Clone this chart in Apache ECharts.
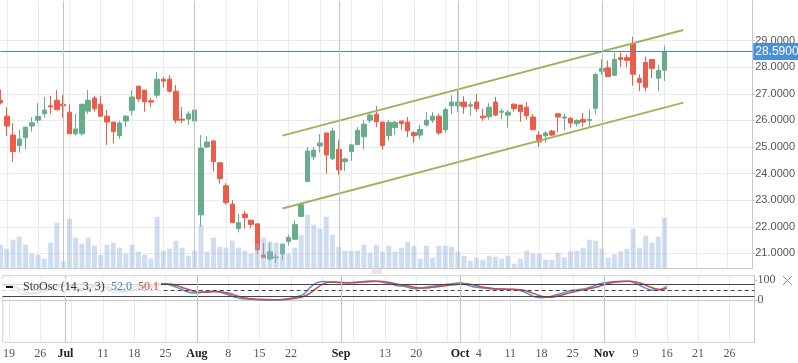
<!DOCTYPE html>
<html><head><meta charset="utf-8">
<script src="https://cdn.jsdelivr.net/npm/echarts@6/dist/echarts.min.js"></script>
<style>html,body{margin:0;padding:0;background:#fff}#c{width:798px;height:363px}</style>
</head><body><div id="c"></div><script>
const open  = [26.76,26.16,25.45,25.05,25.35,25.79,26.01,26.25,26.55,26.76,26.61,26.31,25.50,25.50,26.35,26.84,26.61,26.16,25.94,25.43,25.98,26.38,27.29,27.14,26.74,26.95,27.55,27.55,27.10,26.05,26.05,25.98,22.45,25.00,25.23,24.41,23.54,22.85,21.94,22.48,22.25,22.11,20.94,20.79,20.84,20.98,21.45,21.53,22.39,23.70,24.63,25.04,25.53,24.56,24.91,24.45,24.83,25.09,25.39,26.01,26.23,25.94,25.43,25.73,25.98,25.94,25.54,25.45,25.83,26.01,26.16,25.65,26.55,26.55,26.69,26.54,26.69,26.16,26.14,26.69,26.31,26.20,26.61,26.58,26.50,26.13,25.45,25.43,25.60,26.25,26.09,26.08,25.88,26.04,26.00,26.46,27.85,27.98,27.70,28.36,28.36,28.88,27.58,28.18,28.29,27.59,27.89];
const close = [26.66,25.79,24.83,25.30,25.75,25.91,26.15,26.39,26.51,26.40,26.55,25.50,25.68,26.61,26.76,26.44,26.16,25.94,25.58,25.90,26.16,26.88,26.81,26.70,26.69,27.55,27.48,27.10,26.01,26.01,26.24,26.39,24.96,25.19,24.45,23.81,22.91,22.16,22.15,22.35,22.09,21.13,20.85,21.06,20.86,21.33,21.60,22.08,22.83,24.85,24.88,25.15,24.70,25.60,24.14,24.55,25.08,25.63,25.86,26.20,25.95,25.05,25.93,25.93,25.88,25.61,25.43,25.66,26.01,26.16,25.53,26.41,26.69,26.69,26.51,26.59,26.44,26.10,26.50,26.20,26.35,26.31,26.44,26.33,26.18,25.65,25.19,25.53,25.45,26.13,26.13,25.90,26.00,25.94,26.04,27.73,27.95,27.65,28.29,28.29,28.26,27.74,27.43,27.25,27.96,27.88,28.59];
const low   = [26.60,25.41,24.45,24.79,24.90,25.58,25.90,26.10,26.25,26.40,26.10,25.48,25.43,25.43,26.25,26.33,26.14,25.08,25.13,25.31,25.76,26.20,26.70,26.33,26.51,26.84,27.23,27.04,25.90,25.90,25.83,25.58,22.01,24.95,24.08,23.63,22.83,22.16,21.79,21.93,21.94,20.99,20.83,20.73,20.64,20.75,21.30,21.53,22.39,23.70,24.51,24.79,24.00,24.50,23.95,24.10,24.48,25.09,24.91,25.90,25.75,24.90,25.24,25.46,25.65,25.38,25.16,25.30,25.76,25.90,25.45,25.54,26.25,26.31,26.25,26.18,26.33,25.98,26.03,26.16,26.05,25.73,26.33,25.95,26.03,25.65,25.00,25.16,25.41,25.56,25.63,25.73,25.78,25.75,25.73,26.23,27.73,27.63,27.66,28.00,28.00,27.31,27.10,27.10,27.59,27.10,27.48];
const high  = [27.16,26.50,25.90,25.66,25.75,26.13,26.65,26.88,26.93,27.14,26.96,26.61,26.24,26.61,27.14,26.93,26.93,26.39,25.94,25.98,26.20,27.14,27.29,27.14,26.84,27.81,27.63,27.70,27.33,26.50,26.35,26.50,25.45,25.41,25.26,24.41,23.64,23.00,22.48,22.60,22.25,22.11,21.40,21.40,21.00,21.33,21.70,22.23,22.91,25.00,25.00,25.49,25.53,25.73,25.25,24.60,25.13,25.75,26.00,26.33,26.54,25.94,26.01,25.98,25.98,26.13,25.60,25.83,26.31,26.31,26.25,26.48,26.95,27.13,26.91,26.70,26.99,26.44,26.65,26.88,26.43,26.39,26.65,26.58,26.69,26.24,25.60,25.60,25.65,26.25,26.25,26.13,26.04,26.28,26.41,27.80,28.31,28.25,28.54,28.56,28.48,29.15,27.73,28.40,28.29,28.10,28.81];
const volume = [233,193,283,313,233,143,133,93,253,453,73,493,303,243,303,223,133,233,253,203,143,233,163,133,93,513,173,193,273,203,123,173,433,163,303,213,203,273,203,173,143,243,303,263,253,253,143,203,333,533,433,393,513,333,213,173,173,173,233,153,233,163,223,163,203,263,223,93,223,103,223,223,213,163,123,73,103,83,123,113,93,123,43,93,173,143,143,83,83,153,107,167,173,203,283,273,193,103,137,167,193,393,203,323,253,313,503];
const stochK = [78,72,50,32,30,40,52,62,68,74,74,60,52,64,74,72,66,52,40,42,52,66,72,70,66,84,82,74,62,48,38,36,42,45,44,38,28,16,9,6,5,3,2,2,3,5,10,18,30,62,86,94,92,90,88,88,90,92,95,96,94,88,82,73,70,62,58,62,68,72,76,80,84,88,78,68,64,60,57,55,55,54,53,45,30,16,13,16,24,33,42,50,54,58,68,80,88,92,94,95,95,85,70,56,50,55,70];
const stochD = [74,74,66,52,38,34,40,50,60,68,72,70,62,58,62,70,72,64,54,46,46,52,62,70,70,82,83,80,72,60,50,42,40,41,44,42,36,26,17,10,7,5,4,3,3,4,6,11,19,35,58,80,90,92,90,88,88,90,92,94,95,93,88,80,75,70,64,61,62,66,70,74,78,82,83,78,70,64,60,57,56,55,54,51,43,31,20,15,17,24,33,42,49,54,60,68,78,87,91,94,95,92,84,70,59,53,60];
const tickIdx  = [1,6,10,16,21,26,31,36,41,46,54,61,66,73,76,81,86,91,96,101,106,111,116];
const tickText = ['19','26','Jul','11','18','25','Aug','8','15','22','Sep','13','20','Oct','4','11','18','25','Nov','9','16','21','26'];
const priceTicks = [21,22,23,24,25,26,27,28,29];
const monthIdx = [10,31,54,73,96];
const weekIdx  = [1,6,11,16,21,26,31,36,41,46,51,56,61,66,71,76,81,86,91,96,101,106,111,116];
const channelUpper = [[45,25.43],[109,29.40]];
const channelLower = [[45,22.69],[109,26.67]];
const lastPrice = 28.59;
const slots = 121;

const cats = Array.from({length: slots}, (_, i) => String(i));
const labelMap = {}; tickIdx.forEach((k, j) => labelMap[k] = tickText[j]);
const monthNames = ['Jul','Aug','Sep','Oct','Nov'];
const weekSet = new Set(weekIdx);
const candles = open.map((o, i) => [o, close[i], low[i], high[i]]);
const GREEN = '#68ac8c', RED = '#ea5d4b';

const chart = echarts.init(document.getElementById('c'));
chart.setOption({
  animation: false,
  grid: [
    {left: 0.5, right: 43.5, top: 0.8, height: 267.2},
    {left: 0.5, right: 43.5, top: 275.7, height: 66.6, show: true, borderColor: '#d0d0d0', borderWidth: 1}
  ],
  xAxis: [
    {type: 'category', gridIndex: 0, data: cats, boundaryGap: false,
     axisLine: {show: true, lineStyle: {color: '#c8c8c8'}}, axisTick: {show: false}, axisLabel: {show: false},
     splitLine: {show: true, interval: (i) => weekSet.has(i), lineStyle: {color: '#ebebeb', width: 1}}},
    {type: 'category', gridIndex: 1, data: cats, boundaryGap: false,
     axisLine: {show: true, lineStyle: {color: '#c8c8c8'}}, axisTick: {show: false},
     axisLabel: {show: true, interval: (i) => labelMap[i] !== undefined, margin: 6,
       fontFamily: 'Liberation Serif', fontSize: 12, color: '#555',
       formatter: (v) => { const t = labelMap[+v]; if (t === undefined) return ''; return monthNames.includes(t) ? '{m|' + t + '}' : t; },
       rich: {m: {fontFamily: 'Liberation Serif', fontSize: 12, fontWeight: 'bold', color: '#222'}}},
     splitLine: {show: true, interval: (i) => weekSet.has(i), lineStyle: {color: '#ebebeb', width: 1}}}
  ],
  yAxis: [
    {type: 'value', gridIndex: 0, position: 'right', min: 20.45, max: 30.5,
     axisLine: {show: true, lineStyle: {color: '#c8c8c8'}},
     axisTick: {show: true, length: 3, customValues: priceTicks, lineStyle: {color: '#c8c8c8'}},
     axisLabel: {customValues: priceTicks, formatter: (v) => Number(v).toFixed(4), color: '#555', fontSize: 11, fontFamily: 'Liberation Sans', margin: 3},
     splitLine: {show: true, lineStyle: {color: '#ebebeb'}}},
    {type: 'value', gridIndex: 0, min: 0, max: 2672, show: false},
    {type: 'value', gridIndex: 1, position: 'right', min: -210, max: 123,
     axisLine: {show: true, lineStyle: {color: '#c8c8c8'}},
     axisTick: {show: true, length: 3, customValues: [0, 100], lineStyle: {color: '#c8c8c8'}},
     axisLabel: {customValues: [0, 100], color: '#555', fontSize: 12, fontFamily: 'Liberation Serif', margin: 3},
     splitLine: {show: false}}
  ],
  series: [
    {type: 'candlestick', xAxisIndex: 0, yAxisIndex: 0, data: candles, barWidth: 5,
     itemStyle: {color: GREEN, color0: RED, borderColor: GREEN, borderColor0: RED, borderWidth: 1},
     markLine: {silent: true, symbol: 'none', animation: false,
       data: [
         {yAxis: lastPrice, lineStyle: {color: '#4a86c8', width: 1, type: 'solid'},
          label: {show: true, position: 'end', formatter: lastPrice.toFixed(4), color: '#fff', backgroundColor: '#4a8fd9',
                  fontFamily: 'Liberation Sans', fontSize: 12, padding: [3, 2, 2, 2], distance: 1}},
         ...monthIdx.map(i => ({xAxis: i, lineStyle: {color: '#c4c4c4', width: 1, type: 'solid'}, label: {show: false}}))
       ]}},
    {type: 'bar', xAxisIndex: 0, yAxisIndex: 1, data: volume, barWidth: 5, z: 3,
     itemStyle: {color: 'rgba(150,180,222,0.45)'}},
    {type: 'line', xAxisIndex: 0, yAxisIndex: 0, data: channelUpper, symbol: 'none', z: 4,
     lineStyle: {color: '#a3b261', width: 2}},
    {type: 'line', xAxisIndex: 0, yAxisIndex: 0, data: channelLower, symbol: 'none', z: 4,
     lineStyle: {color: '#a3b261', width: 2}},
    {type: 'line', xAxisIndex: 1, yAxisIndex: 2, data: stochK, symbol: 'none', smooth: 0.3,
     lineStyle: {color: '#5b8bd0', width: 1.5},
     markLine: {silent: true, symbol: 'none', animation: false,
       data: [
         {yAxis: 80, lineStyle: {color: '#444', width: 1, type: 'solid'}, label: {show: false}},
         {yAxis: 20, lineStyle: {color: '#444', width: 1, type: 'solid'}, label: {show: false}},
         {yAxis: 50, lineStyle: {color: '#444', width: 1, type: [4, 3]}, label: {show: false}},
         ...monthIdx.map(i => ({xAxis: i, lineStyle: {color: '#c4c4c4', width: 1, type: 'solid'}, label: {show: false}}))
       ]}},
    {type: 'line', xAxisIndex: 1, yAxisIndex: 2, data: stochD, symbol: 'none', smooth: 0.3,
     lineStyle: {color: '#c0504d', width: 1.5}}
  ],
  graphic: [
    {type: 'rect', z: 100, shape: {x: 0, y: 279, width: 161, height: 17}, style: {fill: 'rgba(255,255,255,0.8)'}},
    {type: 'line', z: 101, shape: {x1: 6, y1: 287, x2: 13, y2: 287}, style: {stroke: '#111', lineWidth: 2}},
    {type: 'text', z: 101, x: 23, y: 287, style: {text: 'StoOsc (14, 3, 3)', font: '12px "Liberation Serif"', fill: '#333', verticalAlign: 'middle'}},
    {type: 'text', z: 101, x: 111, y: 287, style: {text: '52.0', font: '12px "Liberation Serif"', fill: '#4a7cc0', verticalAlign: 'middle'}},
    {type: 'text', z: 101, x: 138, y: 287, style: {text: '50.1', font: '12px "Liberation Serif"', fill: '#c0504d', verticalAlign: 'middle'}},
    {type: 'line', z: 101, shape: {x1: 372, y1: 269, x2: 382, y2: 269}, style: {stroke: '#cfcfcf', lineWidth: 1}},
    {type: 'line', z: 101, shape: {x1: 372, y1: 271, x2: 382, y2: 271}, style: {stroke: '#cfcfcf', lineWidth: 1}},
    {type: 'line', z: 101, shape: {x1: 372, y1: 273, x2: 382, y2: 273}, style: {stroke: '#cfcfcf', lineWidth: 1}},
    {type: 'line', z: 101, shape: {x1: 783, y1: 276, x2: 792, y2: 285}, style: {stroke: '#999', lineWidth: 1}},
    {type: 'line', z: 101, shape: {x1: 792, y1: 276, x2: 783, y2: 285}, style: {stroke: '#999', lineWidth: 1}}
  ]
});
</script></body></html>
